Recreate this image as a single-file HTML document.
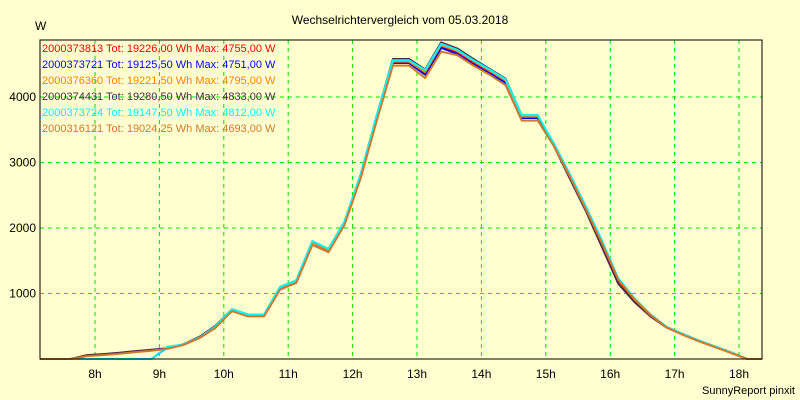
<!DOCTYPE html>
<html><head><meta charset="utf-8"><style>
html,body{margin:0;padding:0;background:#ffffd0;}
svg{display:block;font-family:"Liberation Sans",sans-serif;}
</style></head><body>
<svg id="chart" width="800" height="400">
<rect x="0" y="0" width="800" height="400" fill="#ffffd0"/>
<text x="400" y="24" font-size="12" text-anchor="middle">Wechselrichtervergleich vom 05.03.2018</text>
<text x="35" y="30" font-size="12">W</text>
<text x="795" y="394" font-size="11" text-anchor="end">SunnyReport pinxit</text>
<g id="grid"></g>
<g id="series"></g>
<g id="axes"></g>
<g id="legend"></g>
</svg>
<script>
const times=[7.125,7.375,7.625,7.875,8.125,8.375,8.625,8.875,9.125,9.375,9.625,9.875,10.125,10.375,10.625,10.875,11.125,11.375,11.625,11.875,12.125,12.375,12.625,12.875,13.125,13.375,13.625,13.875,14.125,14.375,14.625,14.875,15.125,15.375,15.625,15.875,16.125,16.375,16.625,16.875,17.125,17.375,17.625,17.875,18.125,18.375];
const seriesRed=[0,0,0,50,65,85,110,130,160,220,330,500,750,670,670,1090,1190,1780,1660,2090,2800,3700,4520,4520,4350,4755,4680,4520,4380,4230,3680,3680,3260,2780,2280,1760,1200,900,670,490,380,280,190,100,0,0];
const seriesBlue=[0,0,0,0,0,0,0,0,180,220,330,500,750,670,670,1090,1190,1780,1660,2090,2800,3700,4520,4520,4340,4751,4660,4500,4360,4220,3680,3680,3260,2800,2300,1780,1220,920,680,490,380,280,190,100,0,0];
const seriesOrange=[0,0,0,50,65,85,110,130,160,220,330,500,750,670,670,1090,1190,1780,1660,2090,2800,3700,4540,4540,4380,4795,4700,4550,4400,4250,3700,3700,3280,2800,2300,1780,1220,920,680,490,380,280,190,100,0,0];
const seriesDark=[0,0,0,60,75,95,120,140,165,225,340,510,760,680,680,1100,1200,1800,1680,2100,2820,3720,4580,4580,4420,4833,4740,4580,4430,4280,3720,3720,3250,2750,2250,1700,1150,870,650,480,380,280,190,100,0,0];
const seriesCyan=[0,0,0,0,0,0,0,0,190,220,330,500,760,680,680,1100,1200,1800,1680,2100,2820,3720,4560,4560,4410,4812,4720,4560,4420,4270,3720,3720,3290,2820,2320,1800,1230,930,680,490,380,280,190,100,0,0];
const seriesBrown=[0,0,0,45,60,80,105,125,155,215,320,480,730,650,650,1060,1160,1740,1630,2050,2760,3640,4480,4480,4290,4693,4640,4480,4340,4180,3640,3640,3250,2780,2280,1760,1210,910,670,480,370,270,180,90,0,0];
const seriesNames=["2000373813 Tot: 19226,00 Wh Max: 4755,00 W","2000373721 Tot: 19125,50 Wh Max: 4751,00 W","2000376360 Tot: 19221,50 Wh Max: 4795,00 W","2000374431 Tot: 19280,50 Wh Max: 4833,00 W","2000373724 Tot: 19147,50 Wh Max: 4812,00 W","2000316121 Tot: 19024,25 Wh Max: 4693,00 W"];
const seriesColors=["#ff0000","#0000ff","#ff8000","#4a2848","#00ffff","#d07830"];
const xTicks=[8,9,10,11,12,13,14,15,16,17,18];
const xTickLabels=["8h","9h","10h","11h","12h","13h","14h","15h","16h","17h","18h"];
const yTicks=[1000,2000,3000,4000];

const L=40,R=762,T=40,B=359;
const X=h=>Math.max(L,Math.min(R,95+(h-8)*64.4));
const Y=v=>B-v*0.0655;
const NS="http://www.w3.org/2000/svg";
function mk(tag,parent,attrs){const e=document.createElementNS(NS,tag);for(const k in attrs)e.setAttribute(k,attrs[k]);parent.appendChild(e);return e;}
const grid=document.getElementById('grid'),axes=document.getElementById('axes'),ser=document.getElementById('series'),leg=document.getElementById('legend');
xTicks.forEach((t,i)=>{
  const g=mk('line',grid,{x1:X(t),x2:X(t),y1:T,y2:B,stroke:'#00e000','stroke-dasharray':'4,4','stroke-width':1});
  
  
  const tx=mk('text',axes,{x:X(t),y:378,'font-size':12,'text-anchor':'middle'});
  tx.textContent=xTickLabels[i];
  
  
});
yTicks.forEach(v=>{
  const g=mk('line',grid,{x1:L,x2:R,y1:Y(v),y2:Y(v),stroke:'#00e000','stroke-dasharray':'4,4','stroke-width':1});
  
  
  const tx=mk('text',axes,{x:36,y:Y(v)+4,'font-size':12,'text-anchor':'end'});
  tx.textContent=String(v);
  
  
});
const frame=mk('rect',axes,{x:L,y:T,width:R-L,height:B-T,fill:'none',stroke:'#000','stroke-width':1});


const all=[seriesRed,seriesBlue,seriesOrange,seriesDark,seriesCyan,seriesBrown];
const order=[0,1,2,3,4,5];
order.forEach(i=>{
  const d=all[i].map((v,k)=>(k?'L':'M')+X(times[k]).toFixed(1)+','+Y(v).toFixed(1)).join('');
  const p=mk('path',ser,{d:d,fill:'none',stroke:seriesColors[i],'stroke-width':2,'stroke-linejoin':'round'});
  
  
});
seriesNames.forEach((n,i)=>{
  const tx=mk('text',leg,{x:42,y:52+i*16,'font-size':11,fill:seriesColors[i]});
  tx.textContent=n;
  
  
});
</script>
</body></html>
